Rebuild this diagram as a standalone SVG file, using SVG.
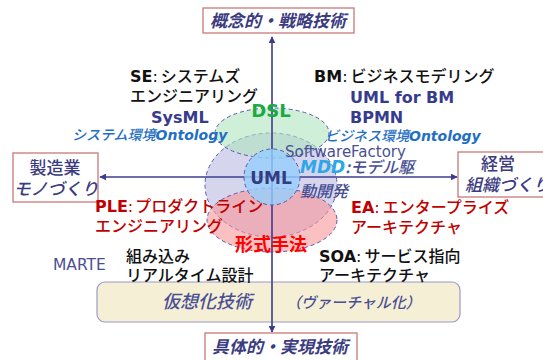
<svg xmlns="http://www.w3.org/2000/svg" width="543" height="360" viewBox="0 0 543 360">
<defs>
<marker id="ah" viewBox="0 0 10 10" refX="9" refY="5" markerWidth="7" markerHeight="7" orient="auto-start-reverse" markerUnits="userSpaceOnUse">
<path d="M0,0 L10,5 L0,10 z" fill="#3c3c8c"/>
</marker>
<style>
text{font-family:"DejaVu Sans","Noto Sans CJK JP",sans-serif;}
.jp{font-family:"Noto Sans CJK JP",sans-serif;font-weight:500;}
.box{fill:#fff;stroke:#c87878;stroke-width:1.3;}
.bt{fill:#3b3b80;font-size:17px;}
.it{font-style:italic;}
.blk{fill:#111;font-size:16px;}
.drd{fill:#c00000;font-size:16px;}
.dbl{fill:#363b8c;font-size:16px;font-weight:bold;}
.ont{fill:#1f6fc4;font-size:14px;font-style:italic;}
.gb{fill:#4a4f94;}
.ell{stroke:#5a5aa8;stroke-width:1;stroke-dasharray:4 3;}
.axis{stroke:#3c3c8c;stroke-width:1.6;fill:none;}
</style>
</defs>
<rect width="543" height="360" fill="#fff"/>

<g id="virtualization">
<rect x="97" y="282" width="363" height="40" rx="8" fill="#f5efd6" stroke="#9a9ac8" stroke-width="1.2"/>
<text class="jp it gb" x="162" y="308" font-size="18">仮想化技術</text>
<text class="jp it gb" x="286" y="308" font-size="15">（ヴァーチャル化）</text>
</g>

<g id="mdd-ellipse">
<ellipse class="ell" cx="271" cy="185" rx="66" ry="52" fill="#cacaea" fill-opacity="0.8"/>
</g>
<g id="dsl-ellipse">
<ellipse class="ell" cx="272" cy="133" rx="57" ry="25" fill="#b0e4c0" fill-opacity="0.6"/>
</g>
<g id="formal-ellipse">
<ellipse class="ell" cx="272" cy="220" rx="65" ry="32" fill="#f8969a" fill-opacity="0.6"/>
</g>

<g id="connectors">
<line class="axis" x1="272" y1="332" x2="272" y2="37" marker-start="url(#ah)" marker-end="url(#ah)"/>
<line class="axis" x1="100" y1="177" x2="457" y2="177" marker-start="url(#ah)" marker-end="url(#ah)"/>
</g>

<g id="uml">
<circle class="ell" cx="272" cy="177" r="28" fill="#96cefc" fill-opacity="0.8" stroke="#4a70c0"/>
<text x="271" y="184" text-anchor="middle" font-size="17" font-weight="bold" fill="#363b80">UML</text>
</g>
<g id="dsl">
<text x="271" y="117" text-anchor="middle" font-size="18" font-weight="bold" fill="#1aaa44">DSL</text>
</g>
<g id="formal">
<text class="jp" x="271" y="251" text-anchor="middle" font-size="18" font-weight="bold" fill="#ff0000" style="font-weight:bold">形式手法</text>
</g>

<g id="top-box">
<rect class="box" x="203" y="8" width="151" height="25"/>
<text class="jp it bt" x="278" y="27" text-anchor="middle" style="font-weight:bold">概念的・戦略技術</text>
</g>
<g id="bottom-box">
<rect class="box" x="205" y="333" width="152" height="32"/>
<text class="jp it bt" x="280" y="353" text-anchor="middle" style="font-weight:bold">具体的・実現技術</text>
</g>
<g id="left-box">
<rect class="box" x="13" y="153" width="85" height="49"/>
<text class="jp bt" x="55" y="174" text-anchor="middle" font-size="18">製造業</text>
<text class="jp it bt" x="56" y="195" text-anchor="middle" font-size="15">モノづくり</text>
</g>
<g id="right-box">
<rect class="box" x="458" y="152" width="100" height="45"/>
<text class="jp bt" x="498" y="170" text-anchor="middle" font-size="18">経営</text>
<text class="jp it bt" x="465" y="191" font-size="16">組織づくり</text>
</g>

<g id="se">
<text class="blk" x="130" y="82"><tspan font-weight="bold">SE</tspan><tspan>:</tspan><tspan class="jp" dx="3">システムズ</tspan></text>
<text class="blk jp" x="130" y="102">エンジニアリング</text>
<text class="dbl" x="151" y="123">SysML</text>
<text class="ont" x="72" y="140"><tspan class="jp">システム環境</tspan><tspan font-weight="bold">Ontology</tspan></text>
</g>

<g id="bm">
<text class="blk" x="314" y="82"><tspan font-weight="bold">BM</tspan><tspan>:</tspan><tspan class="jp" dx="3">ビジネスモデリング</tspan></text>
<text class="dbl" x="350" y="103">UML for BM</text>
<text class="dbl" x="350" y="123">BPMN</text>
<text class="ont" x="325" y="141"><tspan class="jp">ビジネス環境</tspan><tspan font-weight="bold">Ontology</tspan></text>
</g>

<g id="mdd">
<text class="gb" x="285" y="157" font-size="15">SoftwareFactory</text>
<text x="300" y="173" font-size="16"><tspan font-weight="bold" font-style="italic" fill="#2aa8e8" font-size="17">MDD</tspan><tspan class="jp it gb">:モデル駆</tspan></text>
<text class="jp it gb" x="300" y="197" font-size="16">動開発</text>
</g>

<g id="ple">
<text class="drd" x="95" y="212"><tspan font-weight="bold">PLE</tspan><tspan>:</tspan><tspan class="jp" dx="2">プロダクトライン</tspan></text>
<text class="drd jp" x="95" y="232">エンジニアリング</text>
</g>

<g id="ea">
<text class="drd" x="351" y="213"><tspan font-weight="bold">EA</tspan><tspan>:</tspan><tspan class="jp" dx="3">エンタープライズ</tspan></text>
<text class="drd jp" x="351" y="233">アーキテクチャ</text>
</g>

<g id="soa">
<text class="blk" x="319" y="262"><tspan font-weight="bold">SOA</tspan><tspan>:</tspan><tspan class="jp" dx="3">サービス指向</tspan></text>
<text class="blk jp" x="319" y="281">アーキテクチャ</text>
</g>

<g id="embedded">
<text class="blk jp" x="126" y="262">組み込み</text>
<text class="blk jp" x="126" y="281">リアルタイム設計</text>
</g>

<g id="marte">
<text class="gb" x="53" y="270" font-size="15.5">MARTE</text>
</g>
</svg>
